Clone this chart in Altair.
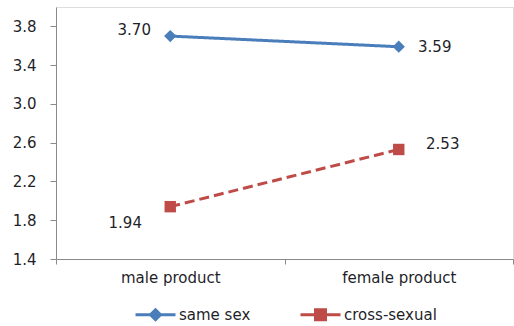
import altair as alt
import pandas as pd

categories = ["male product", "female product"]
series = ["same sex", "cross-sexual"]
same_sex = [3.70, 3.59]
cross_sexual = [1.94, 2.53]
y_ticks = [1.4, 1.8, 2.2, 2.6, 3.0, 3.4, 3.8]

colors = ["#4A7EBB", "#BE4B48"]
FONT = "DejaVu Sans"
TXT = "#1f1f2a"

rows = []
for c, v in zip(categories, same_sex):
    rows.append({"category": c, "series": "same sex", "value": v})
for c, v in zip(categories, cross_sexual):
    rows.append({"category": c, "series": "cross-sexual", "value": v})
df = pd.DataFrame(rows)

x_enc = alt.X("category:N", sort=categories, bandPosition=0.5,
              scale=alt.Scale(type="band", paddingInner=0, paddingOuter=0),
              axis=alt.Axis(title=None, labelAngle=0, tickBand="extent", tickSize=5,
                            domainColor="#8a8a8a", tickColor="#8a8a8a",
                            labelFont=FONT, labelFontSize=15, labelColor=TXT,
                            labelPadding=6))
y_enc = alt.Y("value:Q", scale=alt.Scale(domain=[1.4, 4.0], nice=False, zero=False),
              axis=alt.Axis(title=None, values=y_ticks, format=".1f", grid=False,
                            tickSize=6, domainColor="#8a8a8a", tickColor="#8a8a8a",
                            labelFont=FONT, labelFontSize=15, labelColor=TXT,
                            labelPadding=14))

col_scale = alt.Scale(domain=series, range=colors)

base = alt.Chart(df)

lines = base.mark_line(strokeWidth=3).encode(
    x=x_enc, y=y_enc,
    color=alt.Color("series:N", scale=col_scale, legend=None),
    strokeDash=alt.StrokeDash("series:N", scale=alt.Scale(domain=series, range=[[1, 0], [10, 5]]), legend=None),
)

points = base.mark_point(filled=True, opacity=1).encode(
    x=x_enc, y=y_enc,
    color=alt.Color("series:N", scale=col_scale, legend=None),
    shape=alt.Shape("series:N", scale=alt.Scale(domain=series, range=["diamond", "square"]), legend=None),
    size=alt.Size("series:N", scale=alt.Scale(domain=series, range=[150, 130]), legend=None),
)

label_offsets = {
    ("same sex", "male product"): (-36, -6),
    ("same sex", "female product"): (36, 0),
    ("cross-sexual", "female product"): (44, -5),
    ("cross-sexual", "male product"): (-45, 16),
}
texts = []
for (s, c), (dx, dy) in label_offsets.items():
    texts.append(
        base.transform_filter((alt.datum.series == s) & (alt.datum.category == c))
        .mark_text(dx=dx, dy=dy, font=FONT, fontSize=15, color=TXT)
        .encode(x=x_enc, y=y_enc, text=alt.Text("value:Q", format=".2f"))
    )

diamond_path = "M-4,0H4M0,-1L1,0L0,1L-1,0Z"
square_path = "M-4,0H4M-1,-1H1V1H-1Z"


def make_legend():
    return alt.Legend(title=None, orient="none", direction="horizontal",
                      legendX=92, legendY=300, symbolSize=100,
                      symbolStrokeWidth=3, symbolOpacity=1,
                      labelOffset=16, columnPadding=43,
                      labelFont=FONT, labelFontSize=15, labelColor=TXT)


legend_layer = base.mark_point(filled=False, opacity=0).encode(
    x=x_enc, y=y_enc,
    color=alt.Color("series:N", scale=col_scale, legend=make_legend()),
    fill=alt.Fill("series:N", scale=col_scale, legend=make_legend()),
    shape=alt.Shape("series:N", scale=alt.Scale(domain=series, range=[diamond_path, square_path]),
                    legend=make_legend()),
)

chart = alt.layer(lines, points, *texts, legend_layer).resolve_scale(
    color="independent", shape="independent", fill="independent",
    strokeDash="independent", size="independent"
).properties(
    width=457, height=252,
    autosize=alt.AutoSizeParams(type="none"),
    padding={"left": 56, "top": 7, "right": 1, "bottom": 67},
).configure_view(stroke=None).configure(background="white")

chart.save("out.html", embed_options={"renderer": "svg", "actions": False})
